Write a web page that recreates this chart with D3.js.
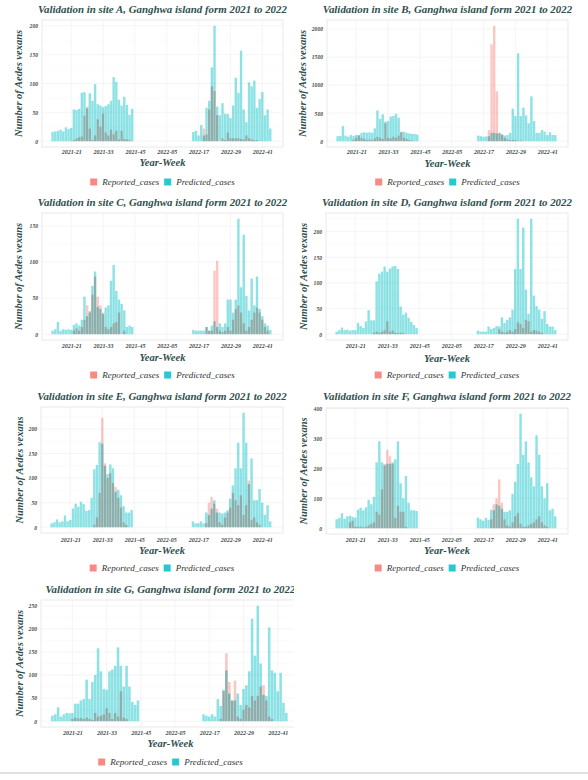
<!DOCTYPE html>
<html><head><meta charset="utf-8">
<script src="https://cdn.jsdelivr.net/npm/d3@7"></script>
<style>
html,body{margin:0;padding:0;background:#fff;}
svg{display:block;}
text{font-family:"Liberation Serif","Times New Roman",serif;}
</style></head><body>
<svg id="chart" width="588" height="780"></svg>
<script>
// ---------- DATA ----------
const weeks = [
 "2021-14","2021-15","2021-16","2021-17","2021-18","2021-19","2021-20","2021-21","2021-22","2021-23",
 "2021-24","2021-25","2021-26","2021-27","2021-28","2021-29","2021-30","2021-31","2021-32","2021-33",
 "2021-34","2021-35","2021-36","2021-37","2021-38","2021-39","2021-40","2021-41","2021-42","2021-43","2021-44",
 "2022-15","2022-16","2022-17","2022-18","2022-19","2022-20","2022-21","2022-22","2022-23","2022-24",
 "2022-25","2022-26","2022-27","2022-28","2022-29","2022-30","2022-31","2022-32","2022-33","2022-34",
 "2022-35","2022-36","2022-37","2022-38","2022-39","2022-40","2022-41","2022-42","2022-43","2022-44"];
const xTickLabels = ["2021-21","2021-33","2021-45","2022-05","2022-17","2022-29","2022-41"];
const seriesNames = ["Reported_cases","Predicted_cases"];
const siteNames = ["A","B","C","D","E","F","G"];

const siteA_predicted = [16,17,18,20,17,24,21,23,55,54,56,84,85,57,83,70,99,64,62,59,61,64,70,111,103,72,62,77,63,46,56,
 16,18,10,28,10,58,70,128,200,60,45,66,48,47,40,62,110,84,157,55,33,102,95,105,58,73,85,45,55,22];
const siteA_reported = [0,0,0,0,0,0,0,0,2,5,7,8,44,60,22,2,10,38,25,48,15,10,20,12,18,3,18,4,3,2,0,
 0,0,0,0,22,12,55,95,87,45,0,5,2,15,5,5,5,5,4,3,10,5,3,2,2,0,0,0,0,0];

const siteB_predicted = [90,95,270,100,80,110,95,110,110,150,160,150,160,150,230,550,400,480,350,360,440,450,490,420,160,170,150,140,130,130,120,
 100,90,80,85,90,150,150,140,150,120,100,110,150,580,450,1570,450,600,460,320,800,360,150,150,200,170,110,160,110,110];
const siteB_reported = [0,0,0,0,0,0,30,60,100,60,40,20,30,20,50,80,60,40,320,60,50,80,60,100,170,60,40,20,10,0,0,
 0,0,0,0,200,1730,2060,890,140,120,60,30,20,20,20,10,10,0,0,0,0,0,0,0,0,0,0,0,0,0];

const siteC_predicted = [5,7,17,5,7,6,7,6,13,15,12,20,52,25,32,67,87,38,35,28,37,40,74,96,60,48,42,33,10,12,10,
 6,5,5,5,5,10,5,12,18,10,15,10,15,48,48,30,48,160,65,138,53,33,77,40,80,35,25,15,12,6];
const siteC_reported = [0,0,0,0,0,0,0,0,5,8,5,10,20,40,30,55,80,52,40,30,10,7,10,15,17,30,0,5,0,0,0,
 0,0,0,0,0,10,5,5,88,102,5,3,5,10,5,20,35,40,30,15,5,10,20,30,37,30,20,10,5,0];

const siteD_predicted = [5,8,13,8,9,7,8,8,22,16,12,25,47,27,27,103,118,122,132,122,128,132,133,127,54,38,42,32,24,18,12,
 7,5,5,5,15,10,12,16,15,33,22,28,33,48,127,225,127,208,87,40,225,75,55,48,30,45,20,15,15,8];
const siteD_reported = [0,0,0,0,0,0,0,0,0,0,0,0,0,0,3,5,3,5,8,25,5,7,3,2,3,2,0,0,0,0,0,
 0,0,0,0,0,0,0,0,10,5,3,5,8,5,10,23,20,12,28,25,5,8,7,5,3,0,0,0,0,0];

const siteE_predicted = [8,10,16,10,12,24,12,15,38,48,42,52,47,33,35,60,118,127,173,170,125,108,128,120,72,76,65,43,30,30,35,
 12,8,8,12,8,30,25,38,55,30,30,28,30,35,58,85,120,172,120,233,172,88,140,55,55,78,50,25,45,12];
const siteE_reported = [0,0,0,0,0,0,0,0,0,0,0,0,0,0,0,0,5,20,70,223,130,100,110,90,82,60,40,10,5,0,0,
 0,0,0,0,0,8,50,62,48,38,10,5,20,30,40,70,55,45,65,25,45,95,15,20,10,5,0,0,0,0];

const siteF_predicted = [30,35,50,32,40,42,38,35,62,68,60,70,95,80,105,220,290,220,210,215,215,220,230,290,150,100,175,85,60,60,58,
 35,30,25,35,28,62,60,80,75,65,55,55,60,115,155,215,382,245,290,220,170,140,310,245,140,100,150,60,65,40];
const siteF_reported = [0,0,0,0,0,20,25,5,5,5,3,5,10,15,20,55,45,130,215,262,240,215,35,75,55,55,5,0,0,0,0,
 0,0,0,0,0,30,80,100,163,85,30,10,5,20,40,50,15,5,5,10,15,20,30,40,20,10,5,0,0,0];

const siteG_predicted = [12,15,30,10,15,18,17,18,38,38,45,48,90,48,85,100,158,108,70,68,108,112,120,160,120,75,120,75,42,35,45,
 15,12,10,15,10,48,33,68,110,60,45,45,60,35,70,78,108,222,142,250,125,57,55,203,110,105,65,105,40,18];
const siteG_reported = [0,0,0,0,0,0,0,5,8,6,7,5,8,5,3,18,10,12,15,28,18,5,18,10,65,8,5,0,0,0,0,
 0,0,0,0,0,0,5,65,147,85,45,88,10,5,25,35,30,55,45,55,75,78,45,10,5,0,0,0,0,0];

const yTickSteps = [50,500,50,50,50,100,50];

// ---------- LAYOUT ----------
const panels = [
 {site:0, pred:siteA_predicted, rep:siteA_reported, x0:42,  x1:283, y0:20,  y1:147, title:13,  ytx:18,    xlab:154, xtit:166, leg:182},
 {site:1, pred:siteB_predicted, rep:siteB_reported, x0:327, x1:568, y0:20,  y1:147, title:13,  ytx:302.5, xlab:154, xtit:167, leg:182},
 {site:2, pred:siteC_predicted, rep:siteC_reported, x0:42,  x1:283, y0:213, y1:340, title:206, ytx:18,    xlab:348, xtit:361, leg:375},
 {site:3, pred:siteD_predicted, rep:siteD_reported, x0:326, x1:568, y0:213, y1:340, title:206, ytx:303.5, xlab:348, xtit:362, leg:375},
 {site:4, pred:siteE_predicted, rep:siteE_reported, x0:41,  x1:283, y0:407, y1:533, title:400, ytx:19,    xlab:542, xtit:554, leg:568},
 {site:5, pred:siteF_predicted, rep:siteF_reported, x0:326, x1:568, y0:408, y1:534, title:400, ytx:303.5, xlab:542, xtit:554, leg:568},
 {site:6, pred:siteG_predicted, rep:siteG_reported, x0:41,  x1:300, y0:600, y1:727, title:593, ytx:19,    xlab:735, xtit:747, leg:762, clip:294}
];

const COL_REP = "#F8766D", COL_PRED = "#00BFC4";
const TITLE_COL = "#2F4F4F";
const svg = d3.select("#chart");
svg.append("rect").attr("width",588).attr("height",780).attr("fill","#fff");

const weekIndex = lbl => { const p = lbl.split("-").map(Number); return (p[0]-2021)*52 + p[1]; };

const defs = svg.append("defs");
defs.append("clipPath").attr("id","clipG").append("rect").attr("x",0).attr("y",560).attr("width",294).attr("height",220);

panels.forEach(P => {
  const g = svg.append("g");
  if (P.clip) g.attr("clip-path","url(#clipG)");
  const cx = (P.x0 + P.x1) / 2;
  const x = d3.scaleLinear().domain([10.0, 100.8]).range([P.x0, P.x1]);
  const M = d3.max(P.pred.concat(P.rep));
  const y = d3.scaleLinear().domain([-0.05*M, 1.05*M]).range([P.y1, P.y0]);
  const step = yTickSteps[P.site];
  const yt = []; for (let v = 0; v <= 1.05*M + 1e-9; v += step) yt.push(v);
  const xt = xTickLabels.map(weekIndex);

  // grid
  const grid = g.append("g");
  const minorY = yt.map(v => v + step/2).filter(v => v < 1.05*M);
  grid.selectAll(".gym").data(minorY).join("line")
    .attr("x1",P.x0).attr("x2",P.x1).attr("y1",d=>y(d)).attr("y2",d=>y(d))
    .attr("stroke","#f7f7f7").attr("stroke-width",0.5);
  grid.selectAll(".gy").data(yt).join("line")
    .attr("x1",P.x0).attr("x2",P.x1).attr("y1",d=>y(d)).attr("y2",d=>y(d))
    .attr("stroke","#f0f0f0").attr("stroke-width",0.7);
  grid.selectAll(".gx").data(xt).join("line")
    .attr("y1",P.y0).attr("y2",P.y1).attr("x1",d=>x(d)).attr("x2",d=>x(d))
    .attr("stroke","#f0f0f0").attr("stroke-width",0.7);

  // bars
  const bars = g.append("g").style("isolation","isolate");
  const rows = weeks.map((w,i) => ({t: weekIndex(w), rep: P.rep[i], pred: P.pred[i]}));
  bars.selectAll(".r").data(rows.filter(d=>d.rep>0)).join("rect")
    .attr("x", d => x(d.t - 0.45)).attr("width", d => x(d.t + 0.45) - x(d.t - 0.45))
    .attr("y", d => y(d.rep)).attr("height", d => y(0) - y(d.rep))
    .attr("fill", COL_REP).attr("fill-opacity", 0.42);
  bars.selectAll(".p").data(rows.filter(d=>d.pred>0)).join("rect")
    .attr("x", d => x(d.t - 0.45)).attr("width", d => x(d.t + 0.45) - x(d.t - 0.45))
    .attr("y", d => y(d.pred)).attr("height", d => y(0) - y(d.pred))
    .attr("fill", COL_PRED).attr("fill-opacity", 0.45)
    .style("mix-blend-mode","multiply");

  // border
  g.append("rect").attr("x",P.x0).attr("y",P.y0).attr("width",P.x1-P.x0).attr("height",P.y1-P.y0)
    .attr("fill","none").attr("stroke","#e3e3e3").attr("stroke-width",0.8);

  // axes
  const ya = g.append("g").attr("transform",`translate(${P.x0},0)`)
    .call(d3.axisLeft(y).tickValues(yt).tickSize(0).tickPadding(4).tickFormat(d3.format("d")));
  ya.select(".domain").remove();
  ya.selectAll("text").attr("font-family","Liberation Serif").attr("font-size",5.6)
    .attr("font-weight","bold").attr("font-style","italic").attr("fill","#3d4848");

  const xa = g.append("g").attr("transform",`translate(0,${P.y1})`)
    .call(d3.axisBottom(x).tickValues(xt).tickSize(0).tickPadding(P.xlab - P.y1 - 4.3)
      .tickFormat((d,i) => xTickLabels[i]));
  xa.select(".domain").remove();
  xa.selectAll("text").attr("font-family","Liberation Serif").attr("font-size",6)
    .attr("font-weight","bold").attr("font-style","italic").attr("fill","#3d4848");

  // title
  g.append("text").attr("x",cx).attr("y",P.title).attr("text-anchor","middle")
    .attr("font-size",10.9).attr("font-weight","bold").attr("font-style","italic")
    .attr("fill",TITLE_COL)
    .text(`Validation in site ${siteNames[P.site]}, Ganghwa island form 2021 to 2022`);

  // axis titles
  g.append("text").attr("transform",`translate(${P.ytx + 3.5},${(P.y0+P.y1)/2}) rotate(-90)`)
    .attr("text-anchor","middle").attr("font-size",10.5).attr("font-weight","bold")
    .attr("font-style","italic").attr("fill",TITLE_COL).text("Number of Aedes vexans");
  g.append("text").attr("x",cx).attr("y",P.xtit).attr("text-anchor","middle")
    .attr("font-size",10.5).attr("font-weight","bold").attr("font-style","italic")
    .attr("fill",TITLE_COL).text("Year-Week");

  // legend
  const lg = g.append("g");
  const cols = [COL_REP, COL_PRED];
  let cur = 0; const items = [];
  seriesNames.forEach((nm,i) => {
    const it = lg.append("g");
    it.append("rect").attr("x",0).attr("y",-3.5).attr("width",7).attr("height",7)
      .attr("fill",cols[i]).attr("fill-opacity",0.85);
    const t = it.append("text").attr("x",12).attr("y",3).attr("font-size",9)
      .attr("font-style","italic").attr("fill","#333").text(nm);
    const w = 12 + t.node().getComputedTextLength();
    items.push({it, off: cur}); cur += w + 5;
  });
  const total = cur - 5;
  items.forEach(o => o.it.attr("transform",`translate(${cx - total/2 + o.off},${P.leg})`));
});

// bottom separator line
svg.append("line").attr("x1",0).attr("x2",588).attr("y1",773).attr("y2",773)
  .attr("stroke","#d6d6d6").attr("stroke-width",1.5);
</script>
</body></html>
